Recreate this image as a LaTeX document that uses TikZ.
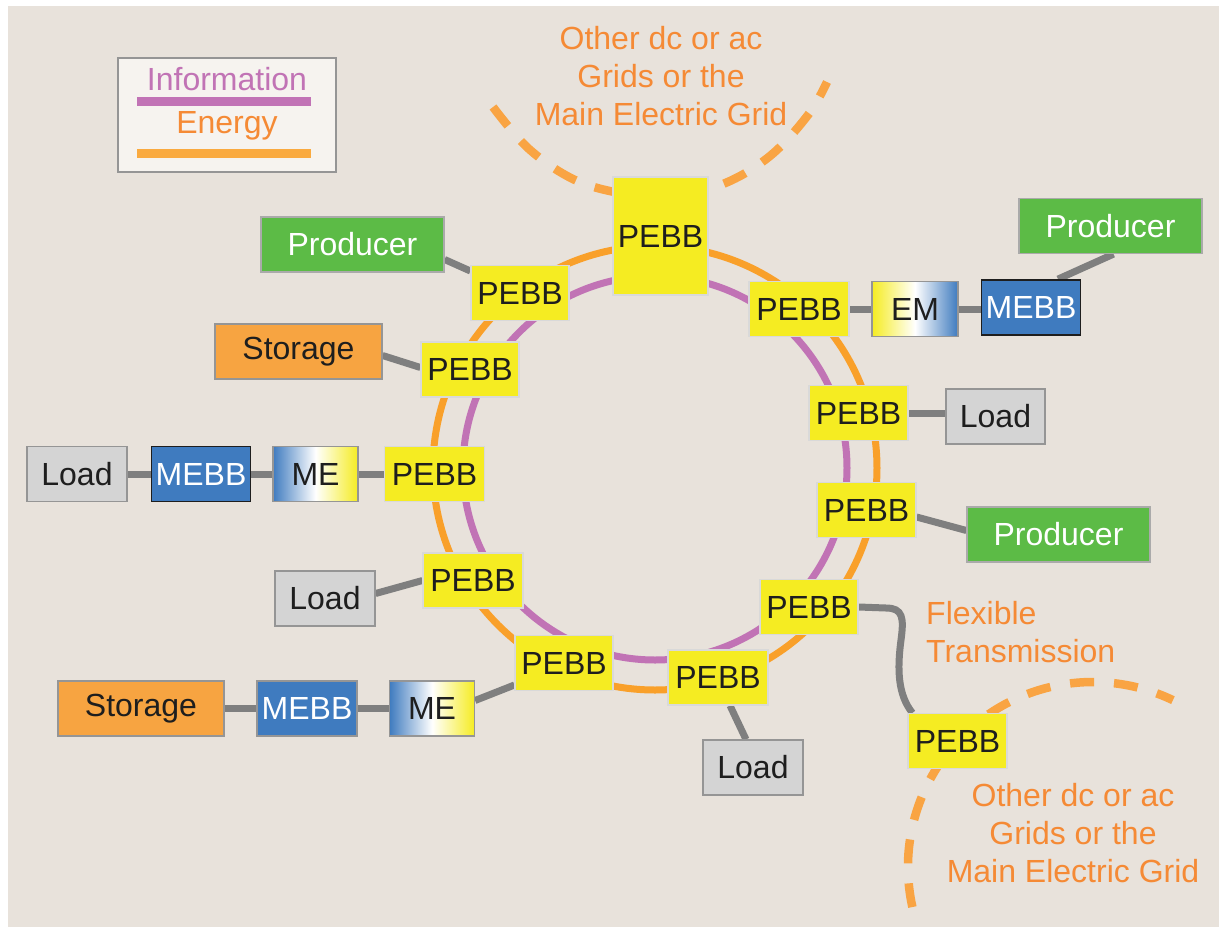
\documentclass[tikz,border=0pt]{standalone}
\usepackage{fontspec}
\setmainfont{Liberation Sans}
\usetikzlibrary{calc}
\pgfdeclarelayer{bg}
\pgfsetlayers{bg,main}

\definecolor{paper}{HTML}{E8E2DB}
\definecolor{legendfill}{HTML}{F6F3EF}
\definecolor{pebbyellow}{HTML}{F5EC22}
\definecolor{prodgreen}{HTML}{5CBB46}
\definecolor{storeorange}{HTML}{F7A441}
\definecolor{loadgray}{HTML}{D4D4D4}
\definecolor{mebbblue}{HTML}{3F7BBF}
\definecolor{ringorange}{HTML}{F9A02A}
\definecolor{ringpurple}{HTML}{C173B5}
\definecolor{dashorange}{HTML}{F9A443}
\definecolor{labelorange}{HTML}{F58A35}
\definecolor{linkgray}{HTML}{7F7F7F}
\definecolor{edgegray}{HTML}{959595}
\definecolor{inkdark}{HTML}{1E1E1E}

\tikzset{
  box/.style={rectangle, inner sep=0pt, minimum height=55pt, line width=1.2pt, text=inkdark},
  pebb/.style={box, fill=pebbyellow, draw=black!15, minimum width=98pt},
  loadbox/.style={box, fill=loadgray, draw=edgegray, minimum width=100pt},
  prodbox/.style={box, fill=prodgreen, draw=edgegray!80, text=white, minimum width=183pt},
  storebox/.style={box, fill=storeorange, draw=edgegray, minimum width=166pt},
  mebbbox/.style={box, fill=mebbblue, draw=edgegray, text=white, minimum width=99pt},
  darkedge/.style={draw=inkdark, line width=1.8pt},
  mebox/.style={box, draw=edgegray, minimum width=85pt,
    left color=mebbblue, right color=pebbyellow, middle color=white},
  embox/.style={box, draw=edgegray, minimum width=86pt,
    left color=pebbyellow, right color=mebbblue, middle color=white},
  link/.style={draw=linkgray, line width=7pt},
  ringline/.style={line width=7pt},
  griddash/.style={draw=dashorange, line width=8.5pt, dash pattern=on 24pt off 20pt},
  gridtext/.style={text=labelorange, align=center, inner sep=0pt},
}

\begin{document}
\begin{tikzpicture}[x=1pt, y=-1pt, font=\fontsize{32}{37.8}\selectfont]
\useasboundingbox (0,0) rectangle (1219,927);

% legend
\node[rectangle, fill=legendfill, draw=edgegray, line width=2pt,
      minimum width=218pt, minimum height=114pt, inner sep=0pt] (legend) at (227,115) {};
\node[text=ringpurple, inner sep=0pt] (infolabel) at (227,79) {Information};
\node[text=labelorange, inner sep=0pt] (energylabel) at (227,126) {Energy};
\draw[ringpurple, line width=9pt] (137,101.5) -- (311,101.5);
\draw[ringorange!90, line width=9pt] (137,153) -- (311,153);

% grid labels
\node[gridtext] (gridtop) at (661,76) {Other dc or ac\\Grids or the\\Main Electric Grid};
\node[gridtext] (gridright) at (1073,833) {Other dc or ac\\Grids or the\\Main Electric Grid};
\node[text=labelorange, align=left, inner sep=0pt, anchor=west] (flex) at (926,632)
  {Flexible\\Transmission};

% building blocks on the ring
\node[pebb, minimum width=95pt, minimum height=118pt] (ptop) at (660.5,236) {PEBB};
\node[pebb] (p1)  at (520,293)   {PEBB};
\node[pebb] (p2)  at (470,369.5) {PEBB};
\node[pebb, minimum width=100pt] (p3) at (434.5,474) {PEBB};
\node[pebb, minimum width=100pt] (p4) at (473,580.5) {PEBB};
\node[pebb] (p5)  at (564,663)   {PEBB};
\node[pebb, minimum width=100pt] (p6) at (718,677.5) {PEBB};
\node[pebb] (p7)  at (809,607)   {PEBB};
\node[pebb, minimum width=99pt] (p8) at (957.5,741) {PEBB};
\node[pebb, minimum width=99pt] (p9) at (866.5,510) {PEBB};
\node[pebb, minimum width=99pt] (p10) at (858.5,413) {PEBB};
\node[pebb, minimum width=100pt] (p11) at (799,309) {PEBB};

% sources, loads and machines
\node[prodbox] (prodA) at (352.5,244.5) {Producer};
\node[storebox, minimum width=167pt] (storA) at (298.5,351.5) {Storage};
\node[loadbox] (loadA) at (77,474) {Load};
\node[mebbbox, darkedge] (mebbA) at (201,474) {MEBB};
\node[mebox] (meA) at (315.5,474) {ME};
\node[loadbox] (loadB) at (325,598.5) {Load};
\node[storebox] (storB) at (141,708.5) {Storage};
\node[mebbbox, minimum width=100pt] (mebbB) at (307,708.5) {MEBB};
\node[mebox] (meB) at (432,708.5) {ME};
\node[loadbox] (loadC) at (753,767.5) {Load};
\node[prodbox] (prodB) at (1058.5,534.5) {Producer};
\node[loadbox, minimum width=99pt] (loadD) at (995.5,416.5) {Load};
\node[embox] (em) at (915,309) {EM};
\node[mebbbox, darkedge] (mebbC) at (1031,307.5) {MEBB};
\node[prodbox] (prodC) at (1110.5,226) {Producer};

\coordinate (ringc) at (655,468);
\coordinate (gridc) at (1093,867);

\begin{pgfonlayer}{bg}
  \fill[white] (0,0) rectangle (1219,927);
  \fill[paper] (8,6) rectangle (1219,927);

  % energy and information rings
  \draw[ringline, ringorange] (ringc) circle[radius=222pt];
  \draw[ringline, ringpurple] (ringc) circle[radius=192pt];

  % neighbouring grids
  \draw[griddash] plot[smooth, tension=0.6] coordinates
    {(493,107) (529,149) (575,180) (625,194) (668,197) (723,184) (770,156) (808,115) (827,82)};
  \draw[griddash] ([shift={(192.5:185pt)}]gridc) arc[start angle=192.5, end angle=64.4, radius=185pt];

  % connections
  \draw[link] ($(prodA.east)+(0,15)$) -- ($(p1.west)+(0,-22)$);
  \draw[link] ($(storA.east)+(0,4)$) -- ($(p2.west)+(0,-2)$);
  \draw[link] (loadA.east) -- (mebbA.west);
  \draw[link] (mebbA.east) -- (meA.west);
  \draw[link] (meA.east) -- (p3.west);
  \draw[link] ($(loadB.east)+(0,-5)$) -- (p4.west);
  \draw[link] (storB.east) -- (mebbB.west);
  \draw[link] (mebbB.east) -- (meB.west);
  \draw[link] ($(meB.east)+(0,-8)$) -- ($(p5.west)+(0,22)$);
  \draw[link] ($(p6.south)+(12,0)$) -- ($(loadC.north)+(-7,0)$);
  \draw[link] (p7.east) -- (886,608) .. controls (903,608) and (904,618) .. (901,640)
     .. controls (897,670) and (898,695) .. ($(p8.north west)+(5,0)$);
  \draw[link] ($(p9.east)+(0,7)$) -- ($(prodB.west)+(0,-4)$);
  \draw[link] (p10.east) -- (p10.east -| loadD.west);
  \draw[link] (p11.east) -- (em.west);
  \draw[link] (em.east) -- (em.east -| mebbC.west);
  \draw[link] ($(mebbC.north)+(27,0)$) -- ($(prodC.south)+(3,0)$);
\end{pgfonlayer}
\end{tikzpicture}
\end{document}
